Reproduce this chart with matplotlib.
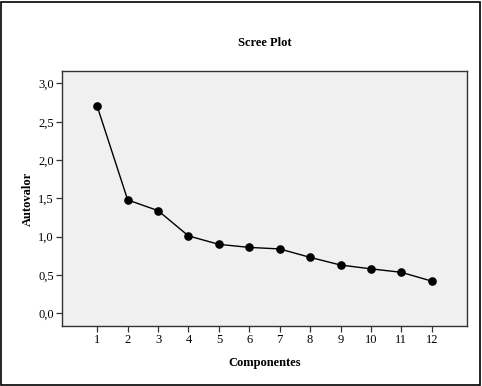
import matplotlib
matplotlib.use("Agg")
import matplotlib.pyplot as plt
from matplotlib.patches import Rectangle
from matplotlib.ticker import FuncFormatter

componentes = [1, 2, 3, 4, 5, 6, 7, 8, 9, 10, 11, 12]
autovalores = [2.70, 1.48, 1.34, 1.01, 0.90, 0.86, 0.84, 0.73, 0.63, 0.58, 0.535, 0.42]
yticks = [0.0, 0.5, 1.0, 1.5, 2.0, 2.5, 3.0]

plt.rcParams['font.family'] = ['Liberation Serif', 'DejaVu Serif']

fig = plt.figure(figsize=(4.82, 3.86), dpi=100)
fig.patch.set_facecolor('white')
W, H = 482, 386
ax = fig.add_axes([62 / W, 1 - 326 / H, (467 - 62) / W, (326 - 71) / H])
ax.set_facecolor('#f0f0f0')

ax.plot(componentes, autovalores, color='black', lw=1.0, marker='o',
        markersize=5.2, markerfacecolor='black', markeredgecolor='black')

ax.set_xlim(-0.16, 13.16)
ax.set_ylim(-0.166, 3.163)
ax.set_xticks(componentes)
ax.set_yticks(yticks)
ax.yaxis.set_major_formatter(FuncFormatter(lambda v, p: f"{v:.1f}".replace('.', ',')))
ax.tick_params(direction='out', length=4.5, width=0.9, color='#333333',
               labelsize=9, pad=1.5)
for s in ax.spines.values():
    s.set_color('#333333')
    s.set_linewidth(1.0)

ax.set_xlabel('Componentes', fontsize=9, fontweight='bold', labelpad=8)
ax.set_ylabel('Autovalor', fontsize=9, fontweight='bold', labelpad=3)
fig.text(0.5 * (62 + 467) / W, 1 - 43 / H, 'Scree Plot', ha='center', va='center',
         fontsize=9, fontweight='bold')

fig.add_artist(Rectangle((1 / W, 1 / H), 479 / W, 383 / H, transform=fig.transFigure,
                         fill=False, edgecolor='black', lw=1.2))

fig.savefig('out.png', dpi=100)
